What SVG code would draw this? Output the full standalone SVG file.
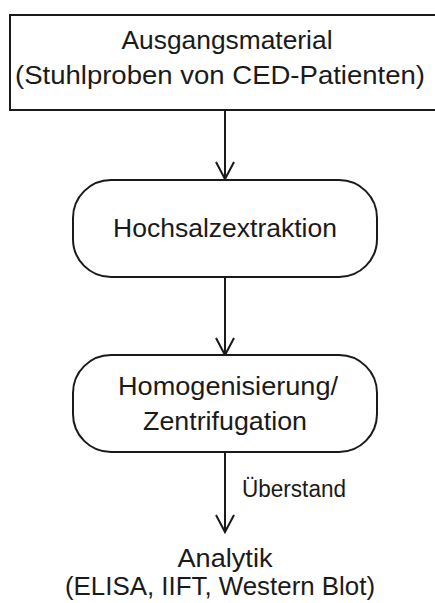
<svg xmlns="http://www.w3.org/2000/svg" width="435" height="603" viewBox="0 0 435 603">
<style>
.box{fill:#fff;stroke:#1a1a1a;stroke-width:2}
.t{font-family:"Liberation Sans",Arial,sans-serif;font-size:26px;fill:#1a1a1a;text-anchor:middle}
.lbl{font-family:"Liberation Sans",Arial,sans-serif;font-size:23px;fill:#1a1a1a}
.c{stroke:#1a1a1a;stroke-width:2;fill:none}
</style>
<rect width="435" height="603" fill="#fff"/>
<g id="connectors">
<line class="c" x1="225" y1="111" x2="225" y2="180"/>
<line class="c" x1="225" y1="277" x2="225" y2="355"/>
<line class="c" x1="225" y1="453" x2="225" y2="532"/>
<path class="c" d="M216 162 L225 179 L234 162"/>
<path class="c" d="M216 338 L225 355 L234 338"/>
<path class="c" d="M216 515 L225 532 L234 515"/>
<text class="lbl" x="242" y="497" textLength="104" lengthAdjust="spacingAndGlyphs">Überstand</text>
</g>
<g id="n1">
<rect class="box" x="10" y="15" width="432" height="95"/>
<text class="t" x="227" y="49" textLength="211" lengthAdjust="spacingAndGlyphs">Ausgangsmaterial</text>
<text class="t" x="220" y="84" textLength="410" lengthAdjust="spacingAndGlyphs">(Stuhlproben von  CED-Patienten)</text>
</g>
<g id="n2">
<rect class="box" x="73" y="180" width="304" height="97" rx="38" ry="38"/>
<text class="t" x="225" y="237" textLength="224" lengthAdjust="spacingAndGlyphs">Hochsalzextraktion</text>
</g>
<g id="n3">
<rect class="box" x="73" y="355" width="304" height="97" rx="38" ry="38"/>
<text class="t" x="228" y="395" textLength="220" lengthAdjust="spacingAndGlyphs">Homogenisierung/</text>
<text class="t" x="225" y="430" textLength="164" lengthAdjust="spacingAndGlyphs">Zentrifugation</text>
</g>
<g id="n4">
<text class="t" x="225" y="567" textLength="95" lengthAdjust="spacingAndGlyphs">Analytik</text>
<text class="t" x="220" y="595" textLength="310" lengthAdjust="spacingAndGlyphs">(ELISA, IIFT,  Western Blot)</text>
</g>
</svg>
